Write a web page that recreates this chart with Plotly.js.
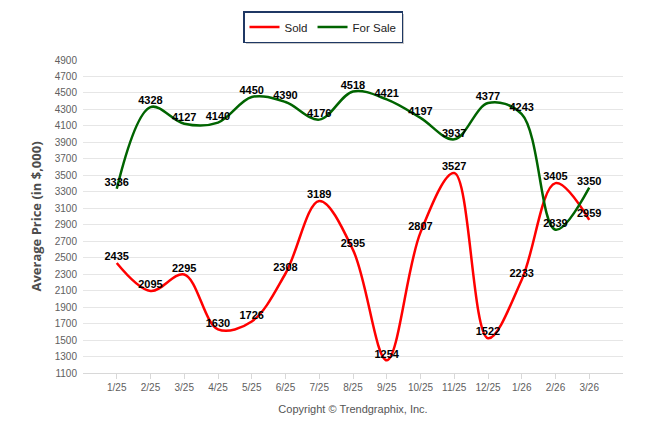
<!DOCTYPE html>
<html>
<head>
<meta charset="utf-8">
<script src="https://cdn.plot.ly/plotly-3.0.1.min.js"></script>
<style>
  html, body { margin: 0; padding: 0; background: #ffffff; }
  #chart { width: 646px; height: 434px; }
</style>
</head>
<body>
<div id="chart"></div>
<script>
const months = ["1/25","2/25","3/25","4/25","5/25","6/25","7/25","8/25","9/25","10/25","11/25","12/25","1/26","2/26","3/26"];
const soldValues = [2435, 2095, 2295, 1630, 1726, 2308, 3189, 2595, 1254, 2807, 3527, 1522, 2233, 3405, 2959];
const forSaleValues = [3336, 4328, 4127, 4140, 4450, 4390, 4176, 4518, 4421, 4197, 3937, 4377, 4243, 2839, 3350];
const yTickValues = [1100,1300,1500,1700,1900,2100,2300,2500,2700,2900,3100,3300,3500,3700,3900,4100,4300,4500,4700,4900];

const labelFont = { family: "Liberation Sans, Arial, sans-serif", size: 11, color: "#000000", weight: "bold" };

const traces = [
  {
    name: "Sold",
    type: "scatter",
    mode: "lines+text",
    x: months,
    y: soldValues,
    text: soldValues.map(String),
    textposition: "top center",
    textfont: labelFont,
    cliponaxis: false,
    line: { color: "#ff0000", width: 2.5, shape: "spline", smoothing: 1 },
    hoverinfo: "x+y"
  },
  {
    name: "For Sale",
    type: "scatter",
    mode: "lines+text",
    x: months,
    y: forSaleValues,
    text: forSaleValues.map(String),
    textposition: "top center",
    textfont: labelFont,
    cliponaxis: false,
    line: { color: "#006400", width: 2.5, shape: "spline", smoothing: 1 },
    hoverinfo: "x+y"
  }
];

const layout = {
  width: 646,
  height: 434,
  margin: { l: 83, r: 23, t: 60, b: 61 },
  paper_bgcolor: "#ffffff",
  plot_bgcolor: "#ffffff",
  font: { family: "Liberation Sans, Arial, sans-serif", color: "#606060" },
  showlegend: true,
  legend: {
    orientation: "h",
    xref: "container",
    yref: "container",
    x: 0.5,
    xanchor: "center",
    y: 1 - 11 / 434,
    yanchor: "top",
    bgcolor: "#ffffff",
    bordercolor: "#1f3864",
    borderwidth: 1.5,
    font: { family: "Liberation Sans, Arial, sans-serif", size: 11.5, color: "#222222" },
    traceorder: "normal"
  },
  xaxis: {
    type: "category",
    range: [-1, 15],
    showgrid: false,
    zeroline: false,
    showline: true,
    linecolor: "#d8d8d8",
    linewidth: 1,
    ticks: "outside",
    ticklen: 5,
    tickcolor: "#d8d8d8",
    tickfont: { family: "Liberation Sans, Arial, sans-serif", size: 10, color: "#606060" },
    title: {
      text: "Copyright © Trendgraphix, Inc.",
      font: { family: "Liberation Sans, Arial, sans-serif", size: 11, color: "#555555" },
      standoff: 13
    },
    fixedrange: true
  },
  yaxis: {
    range: [1100, 4900],
    tickmode: "array",
    tickvals: yTickValues,
    ticktext: yTickValues.map(String),
    showgrid: true,
    gridcolor: "#e6e6e6",
    gridwidth: 1,
    zeroline: false,
    showline: false,
    ticks: "",
    ticklabelstandoff: 5,
    tickfont: { family: "Liberation Sans, Arial, sans-serif", size: 10, color: "#606060" },
    title: {
      text: "Average Price (in $,000)",
      font: { family: "Open Sans, Liberation Sans, sans-serif", size: 13, color: "#4d4d4d", weight: "bold" },
      standoff: 10
    },
    fixedrange: true
  }
};

Plotly.newPlot("chart", traces, layout, { displayModeBar: false, staticPlot: true }).then(function (gd) {
  // drop shadow behind the legend box
  const bg = gd.querySelector(".legend .bg");
  if (bg) {
    const shadow = bg.cloneNode(true);
    shadow.classList.remove("bg");
    shadow.style.fill = "#9a9a9a";
    shadow.style.stroke = "none";
    shadow.style.opacity = "0.55";
    shadow.setAttribute("transform", "translate(2,2)");
    bg.parentNode.insertBefore(shadow, bg);
  }
  // draw all data labels above both lines
  const layer = gd.querySelector(".scatterlayer");
  if (layer) {
    gd.querySelectorAll(".scatterlayer .trace g.text").forEach(function (g) {
      layer.appendChild(g);
    });
  }
});
</script>
</body>
</html>
